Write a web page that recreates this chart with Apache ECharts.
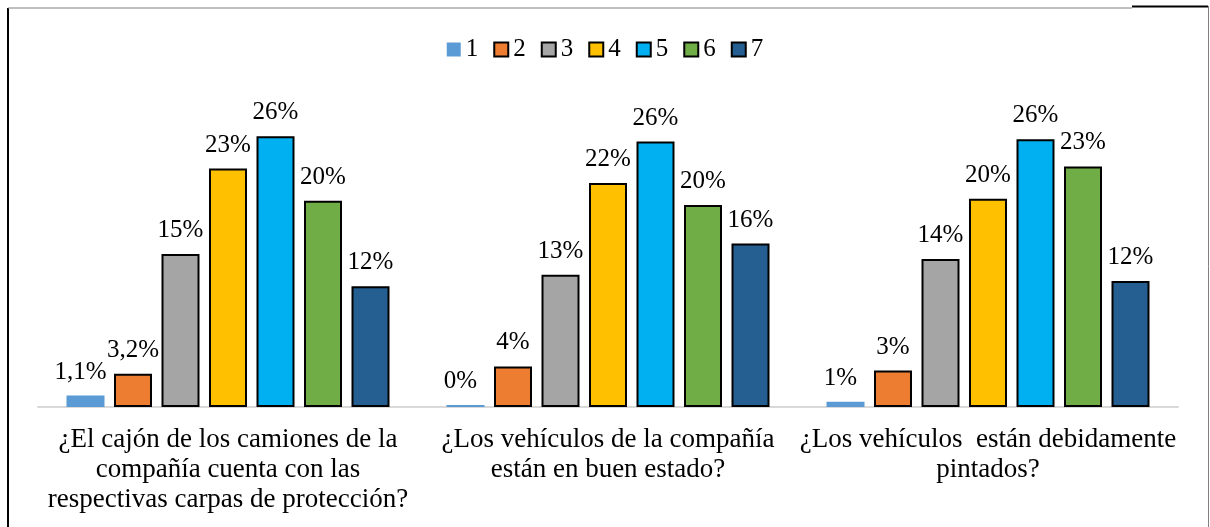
<!DOCTYPE html>
<html>
<head>
<meta charset="utf-8">
<script src="https://cdn.jsdelivr.net/npm/echarts@6/dist/echarts.min.js"></script>
<style>
  html, body { margin: 0; padding: 0; background: #fff; }
  #chart { width: 1210px; height: 527px; }
</style>
</head>
<body>
<div id="chart"></div>
<script>
// preguntas (categorias)
const categories = [
  '¿El cajón de los camiones de la\ncompañía cuenta con las\nrespectivas carpas de protección?',
  '¿Los vehículos de la compañía\nestán en buen estado?',
  '¿Los vehículos  están debidamente\npintados?'
]
const seriesNames = ['1', '2', '3', '4', '5', '6', '7']
const colors = ['#5b9bd5', '#ed7d31', '#a5a5a5', '#ffc000', '#00b0f0', '#70ad47', '#255e91']
// porcentajes por respuesta (1..7) en cada pregunta
const values1 = [1.1, 0.2, 0.5]
const values2 = [3.2, 3.9, 3.5]
const values3 = [14.7, 12.7, 14.2]
const values4 = [22.9, 21.5, 20.0]
const values5 = [26.0, 25.5, 25.7]
const values6 = [19.8, 19.4, 23.1]
const values7 = [11.6, 15.7, 12.1]
// etiquetas tal como aparecen
const labels1 = ['1,1%', '0%', '1%']
const labels2 = ['3,2%', '4%', '3%']
const labels3 = ['15%', '13%', '14%']
const labels4 = ['23%', '22%', '20%']
const labels5 = ['26%', '26%', '26%']
const labels6 = ['20%', '20%', '23%']
const labels7 = ['12%', '16%', '12%']

const allValues = [values1, values2, values3, values4, values5, values6, values7]
const allLabels = [labels1, labels2, labels3, labels4, labels5, labels6, labels7]
const font = '"Liberation Serif", "Times New Roman", serif'

let chart = echarts.init(document.getElementById('chart'))

let series = seriesNames.map((name, i) => ({
  name: name,
  type: 'bar',
  barGap: '25%',
  barCategoryGap: '15%',
  data: allValues[i],
  itemStyle: {
    color: colors[i],
    borderColor: i === 0 ? colors[i] : '#000',
    borderWidth: i === 0 ? 0 : 2
  },
  label: {
    show: true,
    position: 'top',
    distance: 11,
    offset: i === 0 ? [-5, 0] : [0, 0],
    fontFamily: font,
    fontSize: 25,
    color: '#000',
    formatter: p => allLabels[i][p.dataIndex]
  }
}))

let option = {
  animation: false,
  backgroundColor: '#fff',
  color: colors,
  legend: {
    top: 32,
    left: 'center',
    itemWidth: 14,
    itemHeight: 14,
    itemGap: 15,
    icon: 'rect',
    textStyle: { fontFamily: font, fontSize: 25, color: '#000' },
    data: seriesNames
  },
  grid: { left: 38, right: 32, top: 80, bottom: 120 },
  xAxis: {
    type: 'category',
    data: categories,
    axisLine: { lineStyle: { color: '#d9d9d9', width: 2 } },
    axisTick: { show: false },
    axisLabel: {
      interval: 0,
      margin: 18,
      fontFamily: font,
      fontSize: 27,
      lineHeight: 30,
      color: '#000'
    }
  },
  yAxis: {
    type: 'value',
    min: 0,
    max: 31.4,
    show: false,
    splitLine: { show: false }
  },
  graphic: [
    { type: 'line', shape: { x1: 8, y1: 8, x2: 8, y2: 527 }, style: { stroke: '#000', lineWidth: 2 } },
    { type: 'line', shape: { x1: 8, y1: 8, x2: 1132, y2: 8 }, style: { stroke: '#808080', lineWidth: 1 } },
    { type: 'line', shape: { x1: 1132, y1: 6.5, x2: 1208, y2: 6.5 }, style: { stroke: '#000', lineWidth: 2 } },
    { type: 'line', shape: { x1: 1208.5, y1: 6, x2: 1208.5, y2: 527 }, style: { stroke: '#808080', lineWidth: 1 } }
  ],
  series: series
}

chart.setOption(option)
</script>
</body>
</html>
